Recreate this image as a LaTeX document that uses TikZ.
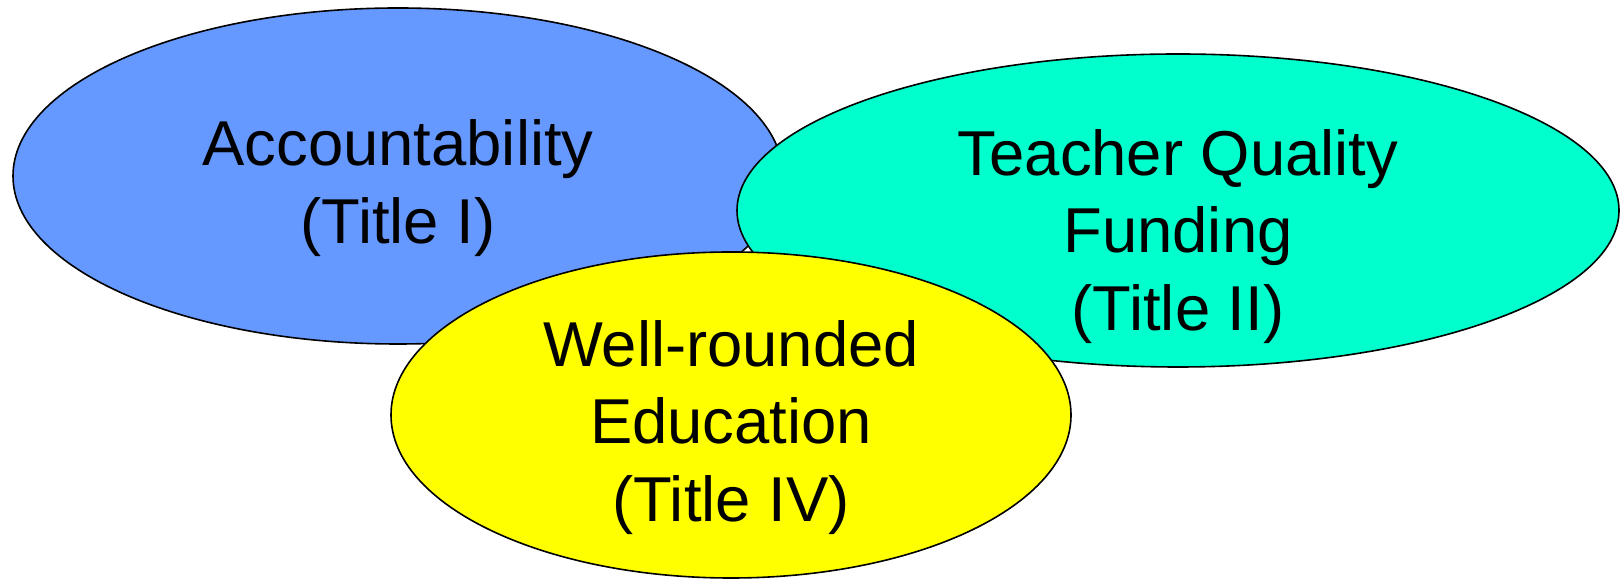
\documentclass[tikz,border=0pt]{standalone}
\usepackage{fontspec}
\setmainfont{Liberation Sans}
\usetikzlibrary{shapes.geometric}
\definecolor{accblue}{HTML}{6699FF}
\definecolor{quteal}{HTML}{00FFCC}
\definecolor{edyellow}{HTML}{FFFF00}
\begin{document}
\begin{tikzpicture}[
x=0.5pt, y=-0.5pt,
every node/.style={align=center, font=\fontsize{31.7}{38.75}\selectfont},
blob/.style={ellipse, draw=black, line width=0.8pt, inner sep=0pt}
]
  \useasboundingbox (0,0) rectangle (1622,581);
  % the three titles, back to front
  \node[blob, fill=accblue, minimum width=385pt, minimum height=168pt] (acc) at (398,176) {};
  \node[blob, fill=quteal, minimum width=441pt, minimum height=156.5pt] (qual) at (1178,210.5) {};
  \node[blob, fill=edyellow, minimum width=340pt, minimum height=163pt] (edu) at (731,415) {};
  \node (acctext) at ([yshift=-6pt]acc.center) {Accountability\\(Title I)};
  \node (qualtext) at ([yshift=-13pt]qual.center) {Teacher Quality\\Funding\\(Title II)};
  \node (edutext) at ([yshift=-6.25pt]edu.center) {Well-rounded\\Education\\(Title IV)};
\end{tikzpicture}
\end{document}
